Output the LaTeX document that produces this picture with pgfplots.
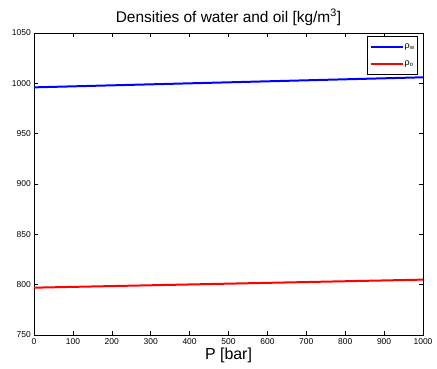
\documentclass[border=0pt]{standalone}
\usepackage{pgfplots}
\pgfplotsset{compat=1.18}
\usepackage{fontspec}
\setmainfont{Liberation Sans}
\begin{document}
\begin{tikzpicture}
\useasboundingbox (-34bp,-34bp) rectangle (403bp,335bp);
\begin{axis}[
  at={(0,0)}, anchor=south west,
  scale only axis,
  width=389bp, height=302bp,
  xmin=0, xmax=1000, ymin=750, ymax=1050,
  xtick={0,100,...,1000}, ytick={750,800,...,1050},
  tick align=inside,
  major tick length=4bp,
  axis line style={line width=0.8pt},
  every tick/.style={black, line width=0.5pt},
  tick label style={font=\fontsize{8.5}{10}\selectfont, inner sep=0pt},
  /pgf/number format/assume math mode=true,
  /pgf/number format/1000 sep={},
  xticklabel style={anchor=base, yshift=-9bp},
  yticklabel style={anchor=east, xshift=-3bp},
  title={Densities of water and oil [kg/m\textsuperscript{3}]},
  title style={font=\fontsize{15.5}{17}\selectfont, at={(axis description cs:0.5,1)}, anchor=base, yshift=5bp, inner sep=0pt},
  xlabel={P [bar]},
  xlabel style={font=\fontsize{16}{18}\selectfont, at={(axis description cs:0.5,0)}, anchor=base, yshift=-24bp, inner sep=0pt},
  legend style={at={(axis description cs:1,1)}, anchor=north east, xshift=-5bp, yshift=-3bp,
    draw=black, line width=0.8pt,
    font=\fontsize{9}{10}\selectfont, inner xsep=2bp, inner ysep=6bp, row sep=9bp,
    nodes={inner sep=1bp}},
  legend cell align=left,
  legend image code/.code={\draw[#1, line width=2pt] (0bp,0bp) -- (32bp,0bp);},
]
\addplot[draw=blue, line width=2pt] coordinates {(0,996) (1000,1006)};
\addlegendentry{ρ\textsubscript{w}}
\addplot[draw=red, line width=2pt] coordinates {(0,797) (1000,805)};
\addlegendentry{ρ\textsubscript{o}}
\end{axis}
\end{tikzpicture}
\end{document}
